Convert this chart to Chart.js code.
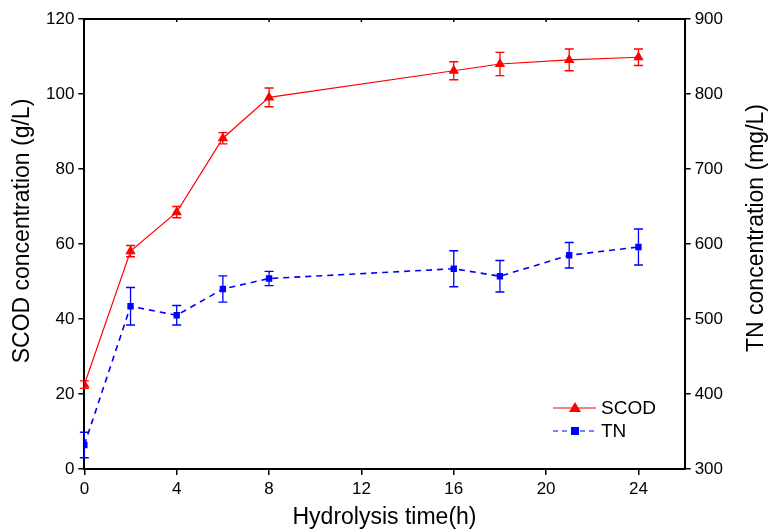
<!DOCTYPE html>
<html>
<head>
<meta charset="utf-8">
<script src="https://cdn.jsdelivr.net/npm/chart.js@4.4.1/dist/chart.umd.min.js"></script>
<style>
  html, body { margin: 0; padding: 0; background: #fff; }
  #wrap { width: 769px; height: 531px; position: relative; }
</style>
</head>
<body>
<div id="wrap"><canvas id="chart"></canvas></div>
<script>
// hydrolysis time (h)
const hours = [0, 2, 4, 6, 8, 16, 18, 21, 24];
// SCOD (g/L) with error
const scod = [22.5, 58.1, 68.5, 88.2, 99.1, 106.2, 108.0, 109.1, 109.8];
const scodErr = [1.0, 1.5, 1.5, 1.5, 2.5, 2.4, 3.1, 2.9, 2.2];
// TN (mg/L) with error
const tn = [332, 517, 505, 540, 554, 567, 557, 585, 596];
const tnErr = [17, 25, 13, 17.5, 9.5, 24, 21, 17, 24];

const xTicks = [0, 4, 8, 12, 16, 20, 24];
const leftTicks = [0, 20, 40, 60, 80, 100, 120];
const rightTicks = [300, 400, 500, 600, 700, 800, 900];

const FONT = "'Liberation Sans', Arial, sans-serif";

// error bars for both series
const errorBars = {
    id: 'errorBars',
    afterDatasetsDraw(chart) {
        const ctx = chart.ctx;
        const x = chart.scales.x;
        const sets = [
            { vals: scod, err: scodErr, axis: chart.scales.y, color: '#ff0000' },
            { vals: tn, err: tnErr, axis: chart.scales.y2, color: '#0000ff' }
        ];
        ctx.save();
        ctx.lineWidth = 1.3;
        sets.forEach(s => {
            ctx.strokeStyle = s.color;
            hours.forEach((h, i) => {
                const px = x.getPixelForValue(h);
                const top = s.axis.getPixelForValue(s.vals[i] + s.err[i]);
                const bot = s.axis.getPixelForValue(s.vals[i] - s.err[i]);
                ctx.beginPath();
                ctx.moveTo(px, top); ctx.lineTo(px, bot);
                ctx.moveTo(px - 4.5, top); ctx.lineTo(px + 4.5, top);
                ctx.moveTo(px - 4.5, bot); ctx.lineTo(px + 4.5, bot);
                ctx.stroke();
            });
        });
        ctx.restore();
    }
};

function verticalTitle(ctx, text, cx, cy) {
    ctx.save();
    ctx.fillStyle = '#000';
    ctx.font = '23px ' + FONT;
    ctx.textAlign = 'center';
    ctx.textBaseline = 'middle';
    ctx.translate(cx, cy);
    ctx.rotate(-Math.PI / 2);
    ctx.fillText(text, 0, 0);
    ctx.restore();
}

// top frame line, inner ticks, axis titles, legend
const extras = {
    id: 'extras',
    afterDraw(chart) {
        const ctx = chart.ctx;
        const a = chart.chartArea;
        const x = chart.scales.x;
        ctx.save();
        ctx.strokeStyle = '#000';
        ctx.lineWidth = 2;
        ctx.beginPath();
        ctx.moveTo(a.left - 1, a.top); ctx.lineTo(a.right + 1, a.top);
        ctx.stroke();
        ctx.lineWidth = 1.5;
        xTicks.forEach(v => {
            const px = x.getPixelForValue(v);
            ctx.beginPath(); ctx.moveTo(px, a.top); ctx.lineTo(px, a.top + 3); ctx.stroke();
        });
        ctx.restore();

        verticalTitle(ctx, 'SCOD concentration (g/L)', 23, 231);
        verticalTitle(ctx, 'TN concentration (mg/L)', 757, 228);

        // legend
        ctx.save();
        const items = [
            { label: 'SCOD', color: '#ff0000', dash: [], y: 408, style: 'triangle' },
            { label: 'TN', color: '#0000ff', dash: [5, 4], y: 431, style: 'rect' }
        ];
        items.forEach(it => {
            ctx.strokeStyle = it.color;
            ctx.lineWidth = 1.2;
            ctx.setLineDash(it.dash);
            ctx.beginPath(); ctx.moveTo(553, it.y); ctx.lineTo(596, it.y); ctx.stroke();
            ctx.setLineDash([]);
            ctx.fillStyle = it.color;
            ctx.beginPath();
            if (it.style === 'triangle') {
                ctx.moveTo(575, it.y - 6); ctx.lineTo(581, it.y + 4); ctx.lineTo(569, it.y + 4);
            } else {
                ctx.rect(571, it.y - 4, 8, 8);
            }
            ctx.fill();
            ctx.fillStyle = '#000';
            ctx.font = '19px ' + FONT;
            ctx.textAlign = 'left';
            ctx.textBaseline = 'middle';
            ctx.fillText(it.label, 601, it.y + 1);
        });
        ctx.restore();
    }
};

const tickFont = { family: FONT, size: 17 };

new Chart(document.getElementById('chart'), {
    type: 'line',
    data: {
        datasets: [
            {
                label: 'SCOD',
                data: hours.map((h, i) => ({ x: h, y: scod[i] })),
                yAxisID: 'y',
                borderColor: '#ff0000',
                backgroundColor: '#ff0000',
                borderWidth: 1.2,
                pointStyle: 'triangle',
                pointRadius: 6,
                pointBorderWidth: 0,
                tension: 0
            },
            {
                label: 'TN',
                data: hours.map((h, i) => ({ x: h, y: tn[i] })),
                yAxisID: 'y2',
                borderColor: '#0000ff',
                backgroundColor: '#0000ff',
                borderWidth: 1.6,
                borderDash: [6, 5],
                pointStyle: 'rect',
                pointRadius: 4.5,
                pointBorderWidth: 0,
                tension: 0
            }
        ]
    },
    options: {
        responsive: true,
        maintainAspectRatio: false,
        animation: false,
        layout: { padding: { top: 19, right: 42, left: 42, bottom: 0 } },
        plugins: { legend: { display: false }, tooltip: { enabled: false } },
        scales: {
            x: {
                type: 'linear', min: 0, max: 26,
                afterBuildTicks: ax => { ax.ticks = xTicks.map(v => ({ value: v })); },
                ticks: { color: '#000', font: tickFont, maxRotation: 0, padding: 4 },
                grid: { drawOnChartArea: false, color: '#000', tickLength: 6, lineWidth: 1.5 },
                border: { color: '#000', width: 2 },
                title: { display: true, text: 'Hydrolysis time(h)', color: '#000', font: { family: FONT, size: 23 }, padding: { top: 0, bottom: 0 } }
            },
            y: {
                position: 'left', min: 0, max: 120,
                afterBuildTicks: ax => { ax.ticks = leftTicks.map(v => ({ value: v })); },
                ticks: { color: '#000', font: tickFont, padding: 4 },
                grid: { drawOnChartArea: false, color: '#000', tickLength: 6, lineWidth: 1.5 },
                border: { color: '#000', width: 2 }
            },
            y2: {
                position: 'right', min: 300, max: 900,
                afterBuildTicks: ax => { ax.ticks = rightTicks.map(v => ({ value: v })); },
                ticks: { color: '#000', font: tickFont, padding: 4 },
                grid: { drawOnChartArea: false, color: '#000', tickLength: 6, lineWidth: 1.5 },
                border: { color: '#000', width: 2 }
            }
        }
    },
    plugins: [errorBars, extras]
});
</script>
</body>
</html>
